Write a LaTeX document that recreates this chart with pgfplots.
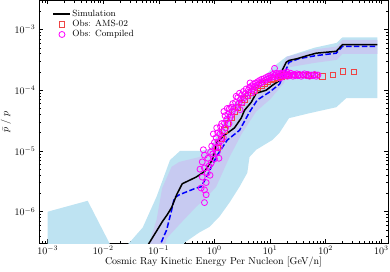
\documentclass[border=0pt]{standalone}
\usepackage{pgfplots}
\pgfplotsset{compat=1.18}
\definecolor{bandOuter}{HTML}{BEE3F2}
\definecolor{bandInner}{HTML}{C7CAF1}
\definecolor{amsRed}{HTML}{EE4444}
\definecolor{simBlue}{HTML}{0000FF}
\definecolor{obsMagenta}{HTML}{FF00FF}

% all values are log10 of energy [GeV/n] and log10 of pbar/p
\pgfplotstableread{
lx ly
-1.30 -6.70
-1.17 -6.51
-0.935 -6.16
-0.85 -6.05
-0.77 -5.93
-0.68 -5.72
-0.58 -5.54
-0.33 -5.43
-0.18 -5.34
-0.04 -5.15
0.05 -4.85
0.18 -4.74
0.36 -4.62
0.48 -4.46
0.54 -4.33
0.66 -4.20
0.75 -4.05
0.93 -4.00
1.04 -3.92
1.17 -3.84
1.22 -3.67
1.29 -3.54
1.34 -3.51
1.49 -3.48
1.67 -3.43
1.83 -3.39
2.19 -3.36
2.30 -3.25
2.93 -3.25
}\simline

\pgfplotstableread{
lx ly
-1.05 -6.75
-0.95 -6.49
-0.86 -6.30
-0.77 -5.97
-0.72 -5.77
-0.63 -5.72
-0.33 -5.61
-0.24 -5.59
-0.15 -5.44
-0.04 -5.23
0.05 -5.07
0.23 -4.82
0.45 -4.66
0.63 -4.36
0.77 -4.16
0.99 -4.03
1.17 -3.90
1.27 -3.70
1.34 -3.54
1.52 -3.48
1.83 -3.43
2.19 -3.39
2.30 -3.28
2.93 -3.28
}\simdashed

\pgfplotstableread{
lx ly
0.05 -4.95
0.12 -4.80
0.18 -4.66
0.24 -4.55
0.30 -4.45
0.36 -4.36
0.42 -4.28
0.48 -4.21
0.54 -4.15
0.60 -4.09
0.66 -4.04
0.72 -4.00
0.78 -3.96
0.84 -3.92
0.90 -3.89
0.96 -3.86
1.02 -3.83
1.08 -3.81
1.14 -3.79
1.20 -3.77
1.27 -3.76
1.34 -3.75
1.42 -3.75
1.50 -3.75
1.60 -3.75
1.70 -3.76
1.80 -3.75
1.94 -3.77
2.13 -3.75
2.31 -3.69
2.51 -3.70
}\ams

\pgfplotstableread{
lx ly
-0.18 -5.07
-0.22 -5.18
-0.18 -5.28
-0.13 -5.36
-0.22 -5.43
-0.15 -5.52
-0.24 -5.61
-0.18 -5.64
-0.15 -5.72
-0.18 -5.85
-0.10 -5.25
-0.12 -5.12
-0.20 -4.98
-0.08 -5.40
-0.26 -5.30
-0.06 -5.20
-0.03 -5.05
0.00 -5.13
0.02 -4.95
-0.05 -4.92
0.05 -5.02
0.07 -4.85
0.03 -4.78
0.09 -4.93
0.10 -4.72
0.12 -4.83
0.00 -4.86
0.14 -4.68
0.06 -4.70
0.11 -4.60
-0.02 -4.72
0.08 -5.12
0.16 -4.78
0.04 -4.62
-0.07 -5.02
0.13 -4.55
0.18 -4.54
0.20 -4.62
0.22 -4.48
0.24 -4.40
0.26 -4.55
0.27 -4.30
0.28 -4.45
0.30 -4.41
0.30 -4.28
0.32 -4.35
0.33 -4.22
0.19 -4.42
0.23 -4.30
0.35 -4.30
0.17 -4.35
0.38 -4.20
0.40 -4.28
0.42 -4.12
0.44 -4.22
0.45 -4.05
0.47 -4.15
0.49 -4.08
0.50 -4.20
0.52 -4.02
0.54 -4.12
0.56 -4.05
0.57 -3.98
0.58 -4.10
0.39 -4.10
0.46 -4.32
0.61 -4.00
0.63 -3.95
0.65 -4.05
0.67 -3.93
0.68 -3.98
0.70 -3.90
0.72 -3.95
0.74 -3.88
0.76 -3.92
0.78 -3.86
0.80 -3.90
0.81 -3.84
0.83 -3.88
0.85 -3.82
0.87 -3.86
0.89 -3.81
0.64 -3.88
0.71 -4.02
0.91 -3.84
0.93 -3.79
0.95 -3.82
0.97 -3.77
0.99 -3.80
1.01 -3.76
1.03 -3.79
1.05 -3.74
1.07 -3.78
1.08 -3.64
1.09 -3.75
1.11 -3.72
1.13 -3.77
1.15 -3.73
1.17 -3.76
1.19 -3.72
1.21 -3.74
1.23 -3.77
1.25 -3.72
1.27 -3.75
1.29 -3.73
1.31 -3.77
1.33 -3.74
1.35 -3.76
1.37 -3.72
1.39 -3.75
1.41 -3.77
1.43 -3.74
1.45 -3.76
1.48 -3.73
1.50 -3.76
1.53 -3.74
1.56 -3.77
1.59 -3.75
1.62 -3.73
1.65 -3.76
1.68 -3.74
1.71 -3.77
1.74 -3.75
1.77 -3.76
1.80 -3.74
1.83 -3.77
1.86 -3.75
1.30 -3.70
1.18 -3.80
}\compiled

\begin{document}
\begin{tikzpicture}
\begin{axis}[width=349pt,height=243pt,scale only axis,
  xmin=-3.155,xmax=3.12,ymin=-6.523,ymax=-2.523,
  xtick={-3,-2,-1,0,1,2,3},
  xticklabels={$10^{-3}$,$10^{-2}$,$10^{-1}$,$10^{0}$,$10^{1}$,$10^{2}$,$10^{3}$},
  ytick={-6,-5,-4,-3},
  yticklabels={$10^{-6}$,$10^{-5}$,$10^{-4}$,$10^{-3}$},
  minor xtick={-3.097,-3.046,
    -2.699,-2.523,-2.398,-2.301,-2.222,-2.155,-2.097,-2.046,
    -1.699,-1.523,-1.398,-1.301,-1.222,-1.155,-1.097,-1.046,
    -0.699,-0.523,-0.398,-0.301,-0.222,-0.155,-0.097,-0.046,
    0.301,0.477,0.602,0.699,0.778,0.845,0.903,0.954,
    1.301,1.477,1.602,1.699,1.778,1.845,1.903,1.954,
    2.301,2.477,2.602,2.699,2.778,2.845,2.903,2.954},
  minor ytick={-6.398,-6.301,-6.222,-6.155,-6.097,-6.046,
    -5.699,-5.523,-5.398,-5.301,-5.222,-5.155,-5.097,-5.046,
    -4.699,-4.523,-4.398,-4.301,-4.222,-4.155,-4.097,-4.046,
    -3.699,-3.523,-3.398,-3.301,-3.222,-3.155,-3.097,-3.046,
    -2.699},
  tick align=inside,major tick length=4pt,minor tick length=2.2pt,
  tick style={black,line width=0.5pt},
  axis line style={line width=0.7pt},
  xticklabel style={yshift=1pt},
  xlabel={Cosmic Ray Kinetic Energy Per Nucleon [GeV/n]},
  ylabel={$\bar{p}\;/\;p$},
  xlabel style={yshift=4pt},
  ylabel style={yshift=-3pt},
  legend cell align=left,
  legend style={at={(0.03,0.975)},anchor=north west,draw=none,fill=none,
    font=\small,nodes={inner sep=1.2pt}},
]
\coordinate (sw) at (rel axis cs:0,0);
\coordinate (ne) at (rel axis cs:1,1);
% outer band, left piece
\addplot[draw=none,fill=bandOuter,forget plot] coordinates {
(-3,-6.0) (-2.28,-5.82) (-1.73,-6.8) (-3,-6.8)} -- cycle;
% outer band, main piece
\addplot[draw=none,fill=bandOuter,forget plot] coordinates {
(-1.81,-6.8) (-1.53,-6.51) (-1.29,-6.26) (-1.04,-5.75) (-0.80,-5.15)
(-0.62,-5.0) (-0.27,-5.0) (0.0,-4.95) (0.1,-4.70) (0.2,-4.42)
(0.35,-4.22) (0.55,-4.05) (0.8,-3.88) (1.05,-3.62) (1.29,-3.45)
(1.8,-3.30) (2.2,-3.22) (2.3,-3.13) (2.93,-3.13)
(2.93,-4.13) (2.37,-4.13) (2.19,-4.28) (1.70,-4.38) (1.34,-4.46)
(1.17,-4.70) (1.04,-4.82) (0.75,-4.98) (0.63,-5.10) (0.59,-5.36)
(0.45,-5.59) (0.27,-5.85) (0.09,-6.08) (-0.09,-6.25) (-0.27,-6.34)
(-0.54,-6.51) (-0.7,-6.8)} -- cycle;
% inner band
\addplot[draw=none,fill=bandInner,forget plot] coordinates {
(-1.25,-6.8) (-1.17,-6.51) (-1.04,-6.13) (-0.94,-5.61) (-0.77,-5.26)
(-0.63,-5.18) (-0.27,-5.10) (-0.09,-4.98) (0.1,-4.65) (0.3,-4.42)
(0.5,-4.22) (0.7,-4.02) (0.9,-3.90) (1.15,-3.72) (1.3,-3.45)
(1.8,-3.33) (2.2,-3.28) (2.3,-3.17) (2.93,-3.17)
(2.93,-3.40) (2.3,-3.40) (2.2,-3.50) (1.8,-3.55) (1.35,-3.62)
(1.25,-3.88) (1.0,-4.15) (0.75,-4.35) (0.5,-4.70) (0.27,-5.1)
(0.03,-5.59) (-0.15,-5.77) (-0.33,-5.92) (-0.63,-6.21) (-0.86,-6.44)
(-0.95,-6.8)} -- cycle;
\addplot[simBlue,line width=1.5pt,dash pattern=on 5.5pt off 2.4pt,forget plot]
  table[x=lx,y=ly] {\simdashed};
\addplot[black,line width=1.5pt] table[x=lx,y=ly] {\simline};
\addlegendentry{Simulation}
\addplot[only marks,mark=square,mark size=2.8pt,mark options={draw=amsRed,line width=0.8pt,fill=none}]
  table[x=lx,y=ly] {\ams};
\addlegendentry{Obs: AMS-02}
\addplot[only marks,mark=o,mark size=3pt,mark options={draw=obsMagenta,line width=0.8pt,fill=none}]
  table[x=lx,y=ly] {\compiled};
\addlegendentry{Obs: Compiled}
\end{axis}
\pgfresetboundingbox
\path[use as bounding box] ([shift={(-39pt,-28pt)}]sw) rectangle ([shift={(2pt,0.5pt)}]ne);
\end{tikzpicture}
\end{document}
